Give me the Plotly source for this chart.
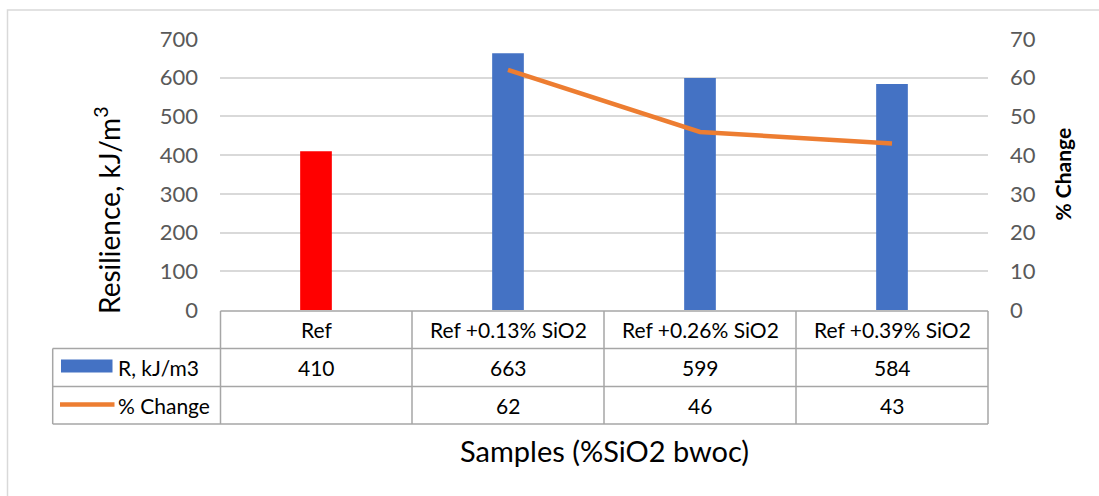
import plotly.graph_objects as go

# ---- data ----
categories = ["Ref", "Ref +0.13% SiO2", "Ref +0.26% SiO2", "Ref +0.39% SiO2"]
resilience = [410, 663, 599, 584]
pct_change = [None, 62, 46, 43]
bar_colors = ["#FF0000", "#4472C4", "#4472C4", "#4472C4"]
y_ticks = [0, 100, 200, 300, 400, 500, 600, 700]
y2_ticks = [0, 10, 20, 30, 40, 50, 60, 70]
series_names = ["R, kJ/m3", "% Change"]

W, H = 1099, 496
L, R, T, B = 220, 988, 39, 310  # plot area in pixels

def px(x):
    return (x - L) / (R - L)

def py(y):
    return (B - y) / (B - T)

FONT = "Lato"
BLUE = "#4472C4"
ORANGE = "#ED7D31"
GRID = "#D9D9D9"
TBL = "#A6A6A6"

fig = go.Figure()
fig.add_trace(go.Bar(x=categories, y=resilience, marker=dict(color=bar_colors, line=dict(width=0)),
                     width=0.165, name=series_names[0], showlegend=False))
fig.add_trace(go.Scatter(x=categories, y=pct_change, yaxis="y2", mode="lines",
                         line=dict(color=ORANGE, width=4.5), name=series_names[1],
                         showlegend=False, connectgaps=False))

fig.update_layout(
    width=W, height=H,
    margin=dict(l=L, r=W - R, t=T, b=H - B),
    paper_bgcolor="white", plot_bgcolor="white",
    font=dict(family=FONT, color="#595959"),
    hovermode=False,
    xaxis=dict(type="category", range=[-0.5, 3.5], showticklabels=False, showgrid=False,
               zeroline=False, showline=False, ticks=""),
    yaxis=dict(range=[0, 700], tickvals=y_ticks, showgrid=True, gridcolor=GRID, gridwidth=1.5,
               zeroline=False, showline=False, ticks="", tickfont=dict(size=22, color="#595959"),
               ticklabelstandoff=21),
    yaxis2=dict(range=[0, 70], tickvals=y2_ticks, overlaying="y", side="right", showgrid=False,
                zeroline=False, showline=False, ticks="", tickfont=dict(size=22, color="#595959"),
                ticklabelstandoff=21),
)

shapes = []
# chart border
shapes.append(dict(type="rect", xref="paper", yref="paper", x0=px(7.5), x1=px(1110), y0=py(10), y1=py(520),
                   line=dict(color=GRID, width=1.5), fillcolor="rgba(0,0,0,0)", layer="below"))

# data table lines
row_y = [311, 348.5, 386.5, 424]
col_x = [220.5, 412, 604, 796, 988]
left_x = 52.7

def hline(x0, x1, y):
    shapes.append(dict(type="line", xref="paper", yref="paper", x0=px(x0), x1=px(x1), y0=py(y), y1=py(y),
                       line=dict(color=TBL, width=1.5)))

def vline(x, y0, y1):
    shapes.append(dict(type="line", xref="paper", yref="paper", x0=px(x), x1=px(x), y0=py(y0), y1=py(y1),
                       line=dict(color=TBL, width=1.5)))

hline(col_x[0], col_x[-1], row_y[0])
for yy in row_y[1:]:
    hline(left_x, col_x[-1], yy)
for xx in col_x:
    vline(xx, row_y[0], row_y[-1])
vline(left_x, row_y[1], row_y[-1])

# legend keys
shapes.append(dict(type="rect", xref="paper", yref="paper", x0=px(61), x1=px(112.5), y0=py(359.5), y1=py(372.5),
                   fillcolor=BLUE, line=dict(width=0)))
shapes.append(dict(type="line", xref="paper", yref="paper", x0=px(60), x1=px(114.5), y0=py(404.5), y1=py(404.5),
                   line=dict(color=ORANGE, width=4.5)))

annotations = []
row_c = [(row_y[i] + row_y[i + 1]) / 2 for i in range(3)]
tfont = dict(family=FONT, size=21, color="black")
for c in categories:
    annotations.append(dict(x=c, xref="x", y=py(row_c[0]), yref="paper", text=c, showarrow=False,
                            font=tfont, xanchor="center", yanchor="middle"))
for c, v in zip(categories, resilience):
    annotations.append(dict(x=c, xref="x", y=py(row_c[1]), yref="paper", text=str(v), showarrow=False,
                            font=tfont, xanchor="center", yanchor="middle"))
for c, v in zip(categories, pct_change):
    if v is not None:
        annotations.append(dict(x=c, xref="x", y=py(row_c[2]), yref="paper", text=str(v), showarrow=False,
                                font=tfont, xanchor="center", yanchor="middle"))
for i, name in enumerate(series_names):
    annotations.append(dict(x=px(116), xref="paper", y=py(row_c[i + 1]), yref="paper", text=name,
                            showarrow=False, font=tfont, xanchor="left", yanchor="middle"))

# axis titles
annotations.append(dict(x=px(604), xref="paper", y=py(450), yref="paper", text="Samples (%SiO2 bwoc)",
                        showarrow=False, font=dict(family=FONT, size=29, color="black"),
                        xanchor="center", yanchor="middle"))
annotations.append(dict(x=px(107), xref="paper", y=py(210), yref="paper", text="Resilience, kJ/m<sup>3</sup>",
                        showarrow=False, textangle=-90, font=dict(family=FONT, size=28, color="black"),
                        xanchor="center", yanchor="middle"))
annotations.append(dict(x=px(1062), xref="paper", y=py(174.5), yref="paper", text="<b>% Change</b>",
                        showarrow=False, textangle=-90, font=dict(family=FONT, size=21, color="black"),
                        xanchor="center", yanchor="middle"))

fig.update_layout(shapes=shapes, annotations=annotations)
fig.write_html("out.html")
